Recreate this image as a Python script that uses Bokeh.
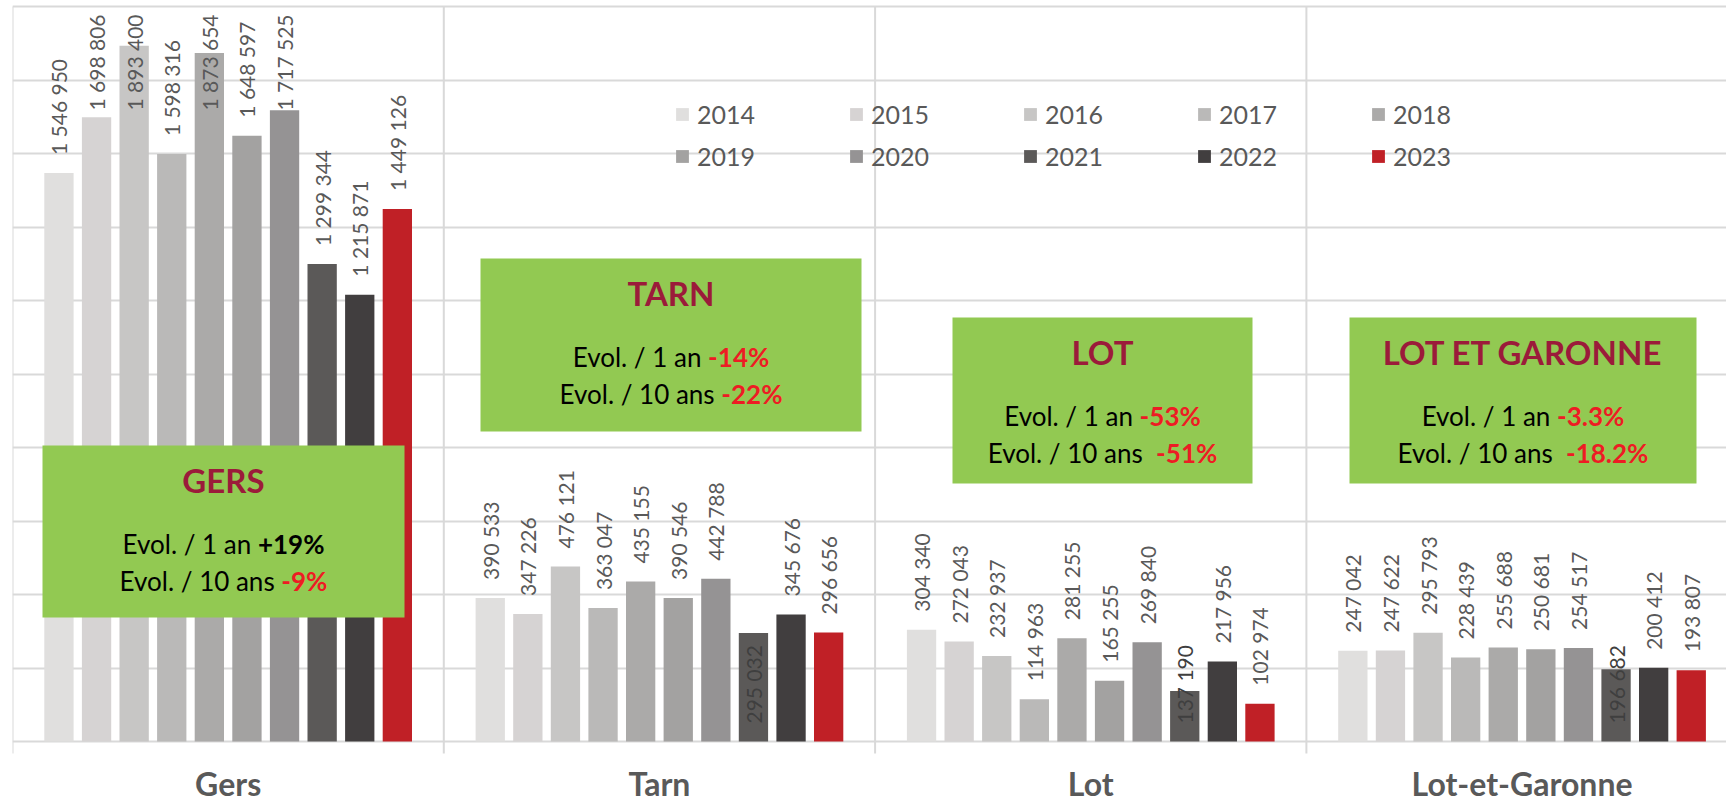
import os, glob, subprocess
import numpy as np
from bokeh.plotting import figure
from bokeh.models import Range1d, FixedTicker, Legend, LegendItem, ColumnDataSource
from bokeh.core.properties import value
from bokeh.embed import file_html
from bokeh.resources import INLINE

# ---------------- data ----------------
departements = ["Gers", "Tarn", "Lot", "Lot-et-Garonne"]
annees = ["2014", "2015", "2016", "2017", "2018", "2019", "2020", "2021", "2022", "2023"]
v2014 = [1546950, 390533, 304340, 247042]
v2015 = [1698806, 347226, 272043, 247622]
v2016 = [1893400, 476121, 232937, 295793]
v2017 = [1598316, 363047, 114963, 228439]
v2018 = [1873654, 435155, 281255, 255688]
v2019 = [1648597, 390546, 165255, 250681]
v2020 = [1717525, 442788, 269840, 254517]
v2021 = [1299344, 295032, 137190, 196682]
v2022 = [1215871, 345676, 217956, 200412]
v2023 = [1449126, 296656, 102974, 193807]
series = [v2014, v2015, v2016, v2017, v2018, v2019, v2020, v2021, v2022, v2023]
couleurs = ["#E0DFDE", "#D6D3D3", "#C7C6C5", "#BAB9B8", "#ABAAA9",
            "#A3A2A1", "#959394", "#5B5958", "#413E3F", "#C02026"]
titres = ["GERS", "TARN", "LOT", "LOT ET GARONNE"]
evol_1an = ["+19%", "-14%", "-53%", "-3.3%"]
evol_10ans = ["-9%", "-22%", "-51%", "-18.2%"]

# ---------------- layout constants ----------------
FIG_W, FIG_H = 1726, 805
BORDER_L = 12
FRAME_W = FIG_W - BORDER_L
PAGE_TOP, PAGE_BASE = 6, 741          # page y of the 2 000 000 line and of the zero line
CAT_PX = 431.3
X_END = FRAME_W / CAT_PX
Y_MAX = 2_000_000
PXY = Y_MAX / (PAGE_BASE - PAGE_TOP)  # data units per vertical pixel
Y_TOP = Y_MAX + PAGE_TOP * PXY
Y_MIN = -(FIG_H - PAGE_BASE) * PXY
PITCH = 37.6 / CAT_PX
BAR_W = 29.3 / CAT_PX
GRID = "#D9D9D9"
FONT = "Lato"


def page_y(py):
    """page pixel y (from top of page) -> data y"""
    return (PAGE_BASE - py) * PXY


def page_x(px):
    return (px - BORDER_L) / CAT_PX


# ---------------- text measuring ----------------
def font_file(bold):
    names = ["Lato-Bold.ttf", "Lato-Bold.otf"] if bold else ["Lato-Regular.ttf", "Lato-Regular.otf"]
    for n in names:
        for root in ["/usr/share/fonts", "/usr/local/share/fonts", os.path.expanduser("~/.fonts")]:
            r = glob.glob(os.path.join(root, "**", n), recursive=True)
            if r:
                return r[0]
    try:
        r = subprocess.run(["fc-match", "-f", "%{file}", "Lato:bold" if bold else "Lato"],
                           capture_output=True, text=True, timeout=5)
        if r.stdout and os.path.exists(r.stdout):
            return r.stdout
    except Exception:
        pass
    return None


_fonts = {}


def measure(text, size, bold):
    key = (size, bold)
    if key not in _fonts:
        try:
            from PIL import ImageFont
            path = font_file(bold)
            _fonts[key] = ImageFont.truetype(path, size) if path else None
        except Exception:
            _fonts[key] = None
    f = _fonts[key]
    if f is not None:
        try:
            return f.getlength(text)
        except Exception:
            pass
    return len(text) * size * (0.55 if bold else 0.5)


# ---------------- figure ----------------
p = figure(width=FIG_W, height=FIG_H, output_backend="svg", toolbar_location=None,
           x_range=Range1d(0, X_END), y_range=Range1d(Y_MIN, Y_TOP),
           x_axis_location=None, y_axis_location=None,
           min_border_left=BORDER_L, min_border_right=0,
           min_border_top=0, min_border_bottom=0)
p.outline_line_color = None
p.background_fill_color = "white"
p.border_fill_color = "white"

p.ygrid.ticker = FixedTicker(ticks=list(range(0, Y_MAX + 1, 200_000)))
p.ygrid.grid_line_color = GRID
p.ygrid.grid_line_width = 2
p.xgrid.visible = False

# category separators (with their short tick below the zero line)
sep = list(range(len(departements) + 1))
p.segment(x0=sep, x1=sep, y0=-12 * PXY, y1=Y_MAX, line_color=GRID, line_width=2)

# category names
centers = [i + 0.5 for i in range(len(departements))]
p.text(x=centers, y=page_y(783), text=departements, text_font=value(FONT),
       text_font_style="bold", text_font_size=value("32px"), text_color="#595959",
       text_align="center", text_baseline="middle")

# ---------------- bars ----------------
items = []
lx, ly, lt, lc = [], [], [], []
CAP = page_y(110)
for j, (annee, vals, col) in enumerate(zip(annees, series, couleurs)):
    xs = [i + 0.5 + (j - 4.5) * PITCH for i in range(len(departements))]
    r = p.vbar(x=xs, top=vals, width=BAR_W, bottom=0, fill_color=col, line_color=None)
    items.append(LegendItem(label=annee, renderers=[r]))
    for i, v in enumerate(vals):
        lx.append(xs[i])
        if annee == "2021" and departements[i] != "Gers":
            ly.append(18 * PXY)
            lc.append("#3F3F3F")
        else:
            ly.append(min(v + 18 * PXY, CAP))
            lc.append("#595959")
        lt.append(f"{v:,}".replace(",", " "))

lab_src = ColumnDataSource(dict(x=lx, y=ly, text=lt, color=lc))
p.text(x="x", y="y", text="text", source=lab_src, angle=np.pi / 2,
       text_font=value(FONT), text_font_size=value("21px"), text_color="color",
       text_align="left", text_baseline="middle")

# ---------------- annotation boxes ----------------
box_px = [  # left, right, top, bottom in page pixels
    (42, 404, 445, 617),
    (480, 861, 258, 431),
    (952, 1252, 317, 483),
    (1349, 1696, 317, 483),
]
GREEN = "#92C952"
TITLE_C = "#9B1B3A"
RED = "#ED1C24"
p.quad(left=[page_x(b[0]) for b in box_px], right=[page_x(b[1]) for b in box_px],
       top=[page_y(b[2]) for b in box_px], bottom=[page_y(b[3]) for b in box_px],
       fill_color=GREEN, line_color=None)

cx = [(page_x(b[0]) + page_x(b[1])) / 2 for b in box_px]
p.text(x=cx, y=[page_y(b[2] + 34) for b in box_px], text=titres,
       text_font=value(FONT), text_font_style="bold", text_font_size=value("33px"),
       text_color=TITLE_C, text_align="center", text_baseline="middle")

TS = 26
tx, ty, tt, tcol, tstyle, toff = [], [], [], [], [], []
for i, b in enumerate(box_px):
    lines = [
        (page_y(b[2] + 98), "Evol. / 1 an ", evol_1an[i]),
        (page_y(b[2] + 135), "Evol. / 10 ans " + (" " if i >= 2 else ""), evol_10ans[i]),
    ]
    for y, pre, val in lines:
        w1 = measure(pre, TS, False)
        w2 = measure(val, TS, True)
        start = -(w1 + w2) / 2
        vcol = "#000000" if val.startswith("+") else RED
        tx += [cx[i], cx[i]]
        ty += [y, y]
        tt += [pre, val]
        tcol += ["#000000", vcol]
        tstyle += ["normal", "bold"]
        toff += [start, start + w1]

p.text(x="x", y="y", text="text", x_offset="off", text_color="c", text_font_style="s",
       source=ColumnDataSource(dict(x=tx, y=ty, text=tt, c=tcol, s=tstyle, off=toff)),
       text_font=value(FONT), text_font_size=value(f"{TS}px"),
       text_align="left", text_baseline="middle")

# ---------------- legend (2 rows x 5 columns, filled row by row) ----------------
NCOL = 5
NROW = 2
ordered = [items[r * NCOL + c] for c in range(NCOL) for r in range(NROW)]
legend = Legend(items=ordered, ncols=NCOL, location=(662, 634),
                glyph_width=16, glyph_height=16, label_standoff=7,
                label_width=139, label_height=29, spacing=12,
                padding=0, margin=0, border_line_color=None,
                background_fill_alpha=0,
                label_text_font=FONT, label_text_font_size="25px",
                label_text_color="#595959")
p.add_layout(legend)

open("out.html", "w").write(file_html(p, INLINE))
